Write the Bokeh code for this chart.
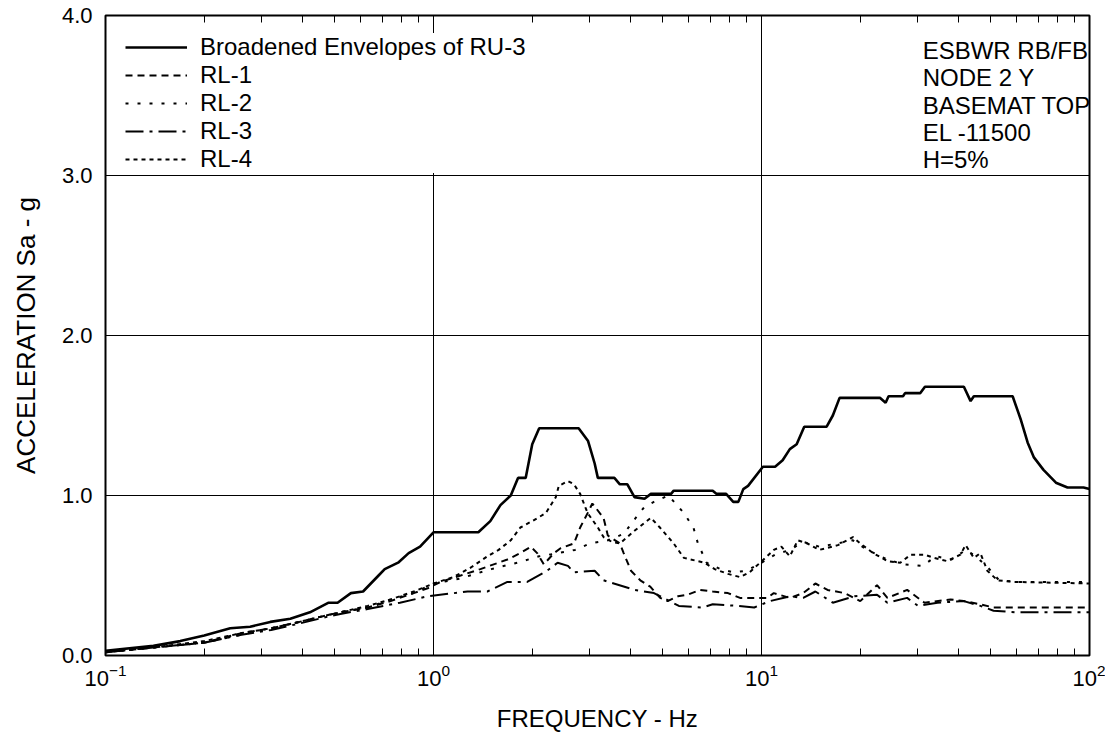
from bokeh.plotting import figure
from bokeh.models import (FixedTicker, LogAxis, Legend, LegendItem, Label,
                          NumeralTickFormatter, Range1d)
from bokeh.embed import file_html
from bokeh.resources import INLINE

FONT = "Liberation Sans"

# ---------------- data ----------------
RU3_FREQ = [0.1, 0.14, 0.169, 0.2, 0.24, 0.276, 0.318, 0.366, 0.42, 0.479,
            0.51, 0.56, 0.61, 0.68, 0.71, 0.78, 0.84, 0.91, 1.0, 1.37,
            1.49, 1.60, 1.72, 1.81, 1.91, 2.0, 2.1, 2.77, 2.96, 3.1,
            3.17, 3.56, 3.7, 3.9, 4.1, 4.4, 4.6, 5.3, 5.4, 7.1,
            7.3, 7.8, 8.2, 8.5, 8.8, 9.1, 10.1, 11.0, 11.6, 12.2,
            12.8, 13.5, 15.8, 16.5, 17.3, 23.0, 23.9, 24.4, 27.0, 27.4,
            30.5, 31.5, 41.4, 43.4, 44.4, 58.3, 61.6, 64.8, 67.6, 72.4,
            79.0, 85.7, 95.9, 100.0]
RU3_SA = [0.03, 0.06, 0.09, 0.125, 0.17, 0.18, 0.21, 0.23, 0.27, 0.33,
          0.33, 0.39, 0.40, 0.50, 0.54, 0.58, 0.64, 0.68, 0.77, 0.77,
          0.84, 0.94, 1.00, 1.11, 1.11, 1.32, 1.42, 1.42, 1.34, 1.20,
          1.11, 1.11, 1.07, 1.07, 0.99, 0.98, 1.01, 1.01, 1.03, 1.03,
          1.01, 1.01, 0.96, 0.96, 1.04, 1.06, 1.18, 1.18, 1.22, 1.29,
          1.32, 1.43, 1.43, 1.50, 1.61, 1.61, 1.58, 1.62, 1.62, 1.64,
          1.64, 1.68, 1.68, 1.59, 1.62, 1.62, 1.48, 1.33, 1.24, 1.16,
          1.08, 1.05, 1.05, 1.04]

RL1_FREQ = [0.1, 0.14, 0.2, 0.26, 0.32, 0.39, 0.47, 0.52, 0.63, 0.74,
            0.87, 0.96, 1.05, 1.21, 1.39, 1.68, 1.84, 1.98, 2.07, 2.17,
            2.33, 2.44, 2.68, 2.8, 2.95, 3.05, 3.3, 3.4, 3.7, 3.8,
            4.0, 4.27, 4.58, 4.91, 5.17, 5.56, 5.96, 6.5, 7.1, 7.9,
            8.6, 9.5, 10.4, 10.9, 12.2, 13.4, 14.6, 15.9, 17.9, 20.0,
            22.5, 24.2, 27.8, 31.4, 37.7, 41.4, 46.5, 51.0, 56.0, 65.0,
            80.0, 100.0]
RL1_SA = [0.02, 0.05, 0.08, 0.14, 0.17, 0.21, 0.25, 0.27, 0.30, 0.34,
          0.39, 0.42, 0.46, 0.50, 0.54, 0.60, 0.64, 0.68, 0.64, 0.57,
          0.64, 0.67, 0.70, 0.80, 0.89, 0.95, 0.86, 0.75, 0.70, 0.64,
          0.53, 0.47, 0.43, 0.36, 0.34, 0.37, 0.38, 0.41, 0.40, 0.39,
          0.36, 0.36, 0.36, 0.39, 0.36, 0.39, 0.45, 0.41, 0.39, 0.34,
          0.44, 0.36, 0.41, 0.33, 0.35, 0.34, 0.32, 0.30, 0.30, 0.30,
          0.30, 0.30]

RL2_FREQ = [0.1, 0.14, 0.2, 0.26, 0.32, 0.39, 0.47, 0.52, 0.63, 0.74,
            0.87, 1.0, 1.2, 1.5, 1.8, 2.1, 2.4, 2.7, 3.0, 3.4,
            3.8, 4.1, 4.4, 4.7, 5.2, 5.8, 6.2, 6.4, 6.8, 7.5,
            8.2, 9.0, 10.0, 11.0, 12.2, 13.4, 15.0, 17.0, 19.0, 21.0,
            24.2, 27.0, 31.0, 34.0, 38.0, 42.0, 45.0, 49.0, 53.0, 60.0,
            100.0]
RL2_SA = [0.02, 0.05, 0.08, 0.13, 0.17, 0.21, 0.25, 0.27, 0.30, 0.35,
          0.39, 0.45, 0.48, 0.54, 0.58, 0.62, 0.64, 0.66, 0.70, 0.72,
          0.76, 0.85, 0.93, 0.96, 1.00, 0.89, 0.80, 0.70, 0.58, 0.54,
          0.52, 0.53, 0.58, 0.63, 0.66, 0.71, 0.68, 0.70, 0.72, 0.66,
          0.60, 0.57, 0.56, 0.62, 0.60, 0.66, 0.62, 0.55, 0.47, 0.46,
          0.46]

RL3_FREQ = [0.1, 0.14, 0.2, 0.26, 0.32, 0.39, 0.47, 0.52, 0.63, 0.79,
            0.96, 1.27, 1.46, 1.68, 1.93, 2.22, 2.39, 2.57, 2.68, 3.1,
            3.3, 4.1, 4.7, 5.6, 6.6, 7.1, 8.5, 9.5, 10.6, 12.2,
            13.4, 14.6, 16.5, 19.2, 22.5, 24.2, 27.8, 30.0, 34.4, 41.4,
            46.5, 51.0, 60.0, 80.0, 100.0]
RL3_SA = [0.02, 0.05, 0.08, 0.13, 0.16, 0.20, 0.24, 0.26, 0.29, 0.33,
          0.37, 0.40, 0.40, 0.46, 0.46, 0.53, 0.58, 0.56, 0.52, 0.53,
          0.47, 0.41, 0.39, 0.31, 0.30, 0.32, 0.31, 0.30, 0.34, 0.37,
          0.36, 0.40, 0.33, 0.37, 0.38, 0.33, 0.36, 0.31, 0.33, 0.34,
          0.31, 0.28, 0.27, 0.27, 0.27]

RL4_FREQ = [0.1, 0.14, 0.2, 0.26, 0.32, 0.39, 0.47, 0.52, 0.63, 0.74,
            0.87, 1.0, 1.15, 1.30, 1.46, 1.58, 1.72, 1.84, 2.0, 2.2,
            2.36, 2.41, 2.57, 2.68, 2.8, 2.95, 3.17, 3.3, 3.5, 3.7,
            4.1, 4.6, 4.9, 5.4, 5.8, 6.7, 7.2, 7.9, 8.6, 9.2,
            9.9, 10.9, 11.5, 12.2, 12.9, 13.8, 15.0, 17.1, 19.0, 20.0,
            21.9, 24.2, 26.5, 28.5, 31.4, 33.6, 36.8, 40.4, 41.9, 44.4,
            46.5, 48.8, 52.4, 58.8, 100.0]
RL4_SA = [0.02, 0.05, 0.09, 0.14, 0.17, 0.21, 0.25, 0.27, 0.31, 0.35,
          0.40, 0.45, 0.49, 0.55, 0.62, 0.66, 0.72, 0.80, 0.84, 0.89,
          0.99, 1.06, 1.09, 1.07, 1.01, 0.89, 0.80, 0.74, 0.71, 0.70,
          0.78, 0.86, 0.80, 0.70, 0.61, 0.58, 0.54, 0.51, 0.49, 0.52,
          0.58, 0.66, 0.68, 0.62, 0.72, 0.70, 0.66, 0.69, 0.74, 0.70,
          0.64, 0.59, 0.58, 0.63, 0.63, 0.61, 0.59, 0.63, 0.69, 0.61,
          0.64, 0.53, 0.47, 0.46, 0.45]

SERIES_NAMES = ["Broadened Envelopes of RU-3", "RL-1", "RL-2", "RL-3", "RL-4"]
X_MAJOR = [0.1, 1, 10, 100]
X_MINOR = [0.2, 0.3, 0.4, 0.5, 0.6, 0.7, 0.8, 0.9,
           2, 3, 4, 5, 6, 7, 8, 9,
           20, 30, 40, 50, 60, 70, 80, 90]
Y_TICKS = [0, 1, 2, 3, 4]
INFO_LINES = ["ESBWR RB/FB", "NODE 2 Y", "BASEMAT TOP", "EL -11500", "H=5%"]
X_TITLE = "FREQUENCY - Hz"
Y_TITLE = "ACCELERATION Sa - g"

for fx, fy in [(RU3_FREQ, RU3_SA), (RL1_FREQ, RL1_SA), (RL2_FREQ, RL2_SA),
               (RL3_FREQ, RL3_SA), (RL4_FREQ, RL4_SA)]:
    assert len(fx) == len(fy)

# ---------------- figure ----------------
p = figure(width=1105, height=734, x_axis_type="log",
           x_range=Range1d(0.1, 100), y_range=Range1d(0, 4),
           output_backend="svg", toolbar_location=None,
           min_border_left=105, min_border_right=16,
           min_border_top=15, min_border_bottom=79)

p.background_fill_color = "white"
p.border_fill_color = "white"
p.outline_line_color = "black"
p.outline_line_width = 2

xt = FixedTicker(ticks=X_MAJOR, minor_ticks=X_MINOR)
yt = FixedTicker(ticks=Y_TICKS)

xa = p.xaxis[0]
xa.ticker = xt
xa.axis_line_color = None
xa.major_tick_in = 0
xa.major_tick_out = 0
xa.minor_tick_in = 7
xa.minor_tick_out = 0
xa.minor_tick_line_color = "black"
xa.minor_tick_line_width = 1
xa.major_label_standoff = 8
xa.major_label_text_font = FONT
xa.major_label_text_font_size = "22px"
xa.major_label_text_color = "black"
xa.axis_label = X_TITLE
xa.axis_label_text_font = FONT
xa.axis_label_text_font_size = "24px"
xa.axis_label_text_font_style = "normal"
xa.axis_label_text_color = "black"
xa.axis_label_standoff = 16

ya = p.yaxis[0]
ya.ticker = yt
ya.formatter = NumeralTickFormatter(format="0.0")
ya.axis_line_color = None
ya.major_tick_in = 0
ya.major_tick_out = 0
ya.minor_tick_in = 0
ya.minor_tick_out = 0
ya.major_label_standoff = 13
ya.major_label_text_font = FONT
ya.major_label_text_font_size = "22px"
ya.major_label_text_color = "black"
ya.axis_label = Y_TITLE
ya.axis_label_text_font = FONT
ya.axis_label_text_font_size = "26px"
ya.axis_label_text_font_style = "normal"
ya.axis_label_text_color = "black"
ya.axis_label_standoff = 18

top = LogAxis(ticker=xt, axis_line_color=None, major_tick_in=0, major_tick_out=0,
              minor_tick_in=7, minor_tick_out=0, minor_tick_line_color="black",
              major_label_text_font_size="2px", major_label_text_alpha=0.0,
              major_label_standoff=0)
p.add_layout(top, "above")

p.xgrid.ticker = xt
p.ygrid.ticker = yt
for g in (p.xgrid[0], p.ygrid[0]):
    g.grid_line_color = "black"
    g.grid_line_width = 1
    g.grid_line_alpha = 1

r0 = p.line(RU3_FREQ, RU3_SA, line_color="black", line_width=2.6)
r1 = p.line(RL1_FREQ, RL1_SA, line_color="black", line_width=2, line_dash="7 5")
r2 = p.line(RL2_FREQ, RL2_SA, line_color="black", line_width=2, line_dash="3 9")
r3 = p.line(RL3_FREQ, RL3_SA, line_color="black", line_width=2, line_dash="18 6 3 6")
r4 = p.line(RL4_FREQ, RL4_SA, line_color="black", line_width=2, line_dash="4 4")

legend = Legend(
    items=[LegendItem(label=n, renderers=[r]) for n, r in zip(SERIES_NAMES, [r0, r1, r2, r3, r4])],
    location=(20, 482), orientation="vertical",
    margin=0, padding=13, spacing=-1,
    glyph_width=62, glyph_height=26, label_height=26, label_width=342,
    label_standoff=13,
    label_text_font=FONT, label_text_font_size="24px", label_text_color="black",
    background_fill_color="white", background_fill_alpha=1.0,
    border_line_color=None,
)
p.add_layout(legend, "center")

for i, line in enumerate(INFO_LINES):
    p.add_layout(Label(x=31, y=3.78 - i * 0.17, text=line,
                       text_font=FONT, text_font_size="24px", text_color="black",
                       text_baseline="middle", text_align="left"))

open("out.html", "w").write(file_html(p, INLINE))
